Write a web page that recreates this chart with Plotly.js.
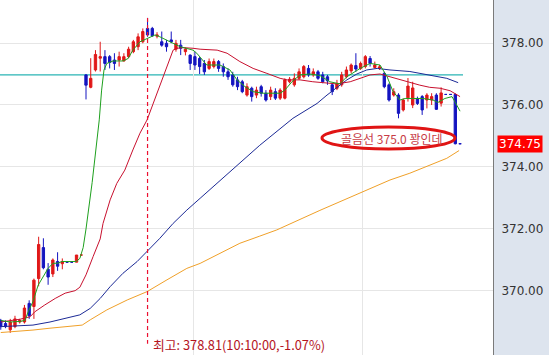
<!DOCTYPE html>
<html>
<head>
<meta charset="utf-8">
<script src="https://cdn.plot.ly/plotly-3.0.1.min.js"></script>
<style>html,body{margin:0;padding:0;background:#fff;}#chart{width:549px;height:355px;}</style>
</head>
<body>
<div id="chart"></div>
<script>
// ---- candle data (one per bar) ----
const openP = [369.05,368.95,368.75,368.85,369.00,369.00,369.60,369.50,370.40,371.40,370.70,370.55,370.95,370.88,370.93,370.93,370.93,371.16,
376.97,376.57,377.13,377.51,377.56,377.56,377.45,377.45,377.42,377.56,377.72,377.88,378.04,378.47,378.47,378.22,378.04,377.99,378.10,377.80,377.93,377.72,
377.61,377.56,377.50,377.34,377.18,377.24,377.40,377.24,377.07,376.97,376.81,376.75,376.32,376.54,376.32,376.59,376.38,376.27,376.43,376.22,
376.22,376.75,376.65,376.86,376.91,377.18,376.97,377.07,376.97,376.91,376.65,376.54,376.65,376.91,377.10,377.27,377.18,377.24,377.50,377.21,
377.18,377.02,376.65,376.32,376.32,375.84,376.23,376.00,376.21,376.27,376.16,376.16,376.32,376.06,376.34,376.34,376.34,374.75];
const highP = [369.10,369.05,369.10,369.20,369.10,369.55,369.70,370.40,371.75,371.70,370.90,371.05,371.25,371.05,370.93,370.93,371.16,371.16,
377.00,377.51,377.77,378.04,377.77,377.61,377.67,377.72,377.67,377.88,378.10,378.31,378.47,378.81,378.52,378.35,378.37,378.10,378.37,378.10,378.10,377.85,
377.63,377.72,377.55,377.45,377.50,377.50,377.45,377.34,377.18,377.07,376.91,376.81,376.70,376.59,376.59,376.65,376.48,376.59,376.54,376.54,
376.86,376.90,377.02,377.18,377.29,377.29,377.18,377.13,377.07,376.97,376.70,376.81,377.07,377.24,377.34,377.67,377.40,377.61,377.58,377.40,
377.29,377.07,376.70,376.54,376.38,376.21,376.87,376.75,376.27,376.32,376.38,376.38,376.38,376.57,376.34,376.34,376.37,374.75];
const lowP = [368.75,368.80,368.65,368.80,368.95,368.95,369.10,369.10,370.15,370.70,370.20,370.45,370.65,370.70,370.93,370.93,370.93,371.16,
376.18,376.54,377.08,377.08,377.13,377.18,377.13,377.24,377.40,377.51,377.67,377.77,377.99,378.20,378.20,378.15,377.88,377.72,377.99,377.72,377.61,377.60,
377.13,377.13,377.00,376.97,377.13,377.18,377.07,376.91,376.81,376.59,376.48,376.38,376.27,376.11,376.22,376.27,376.11,376.16,376.16,376.16,
376.18,376.70,376.59,376.81,376.86,376.91,376.91,376.81,376.70,376.65,376.32,376.48,376.59,376.86,377.02,377.07,377.13,377.18,377.24,377.18,
377.13,376.54,376.11,376.27,375.57,375.79,376.11,375.90,376.00,375.68,375.89,376.00,375.84,375.95,376.34,376.34,374.73,374.75];
const closeP = [368.85,368.85,369.00,369.10,369.05,369.45,369.20,370.35,371.50,370.75,370.45,371.00,370.80,370.95,370.93,370.93,371.16,371.16,
376.64,376.86,377.63,377.56,377.34,377.37,377.34,377.56,377.56,377.80,378.04,378.20,378.37,378.26,378.23,378.26,377.93,377.88,378.04,377.99,377.83,377.80,
377.34,377.29,377.24,377.07,377.40,377.40,377.18,377.07,376.91,376.65,376.59,376.43,376.59,376.27,376.48,376.38,376.16,376.48,376.22,376.48,
376.81,376.83,376.86,377.07,377.24,376.97,377.07,376.86,376.75,376.78,376.43,376.70,376.97,377.13,377.29,377.16,377.34,377.56,377.34,377.29,
377.23,376.59,376.16,376.43,375.73,376.16,376.61,376.55,376.05,375.84,376.32,376.27,375.86,376.39,376.34,376.34,374.75,374.75];

// ---- moving averages (bar index, value) ----
const maShortX = [0,2,4.1,5.1,5.8,6.8,7.9,8.9,10,11,12.1,12.9,15.9,16.7,17.4,18,19.3,20.8,21.3,21.8,22.4,23.7,25.8,26.9,27.9,29.4,30.9,32.6,33.6,35.1,36.4,37.9,39.3,40.6,41.4,43.5,46.3,48.4,49.9,51.6,53.3,55.4,59,60,61.5,63.2,65.3,67.4,69.5,71.6,73.1,75.9,78,80.1,81.6,82.8,84.3,85.4,87.1,89.2,91.3,92.3,93.8,95.3,95.9,97];
const maShortY = [369.05,369.0,369.02,369.05,369.33,369.66,370.19,370.46,370.73,370.89,370.90,370.95,370.95,371.05,371.40,372.0,373.5,375.52,376.48,377.13,377.34,377.42,377.42,377.50,377.77,378.04,378.15,378.26,378.20,378.10,377.99,377.88,377.83,377.77,377.67,377.29,377.29,377.13,376.81,376.59,376.43,376.38,376.38,376.48,376.75,376.97,377.00,376.95,376.75,376.68,376.91,377.18,377.34,377.29,376.91,376.45,376.16,376.21,376.21,376.21,376.16,376.08,376.21,376.27,376.11,375.80];
const maMidX = [0,4.1,6.2,7.2,9.3,11.5,13.6,15.7,16.7,18,19.5,21,21.6,23.1,24.5,26.2,27.9,29.4,30.9,33,35.1,36.4,37.2,38.5,40.6,42.1,45.7,47.8,50.5,53.3,56.2,59,60.5,63.2,65.9,68.9,71,73.8,75.9,78,80.1,82.2,84.3,86.4,88.5,90.6,92.8,94.9,96.4,97];
const maMidY = [369.0,369.09,369.17,369.33,369.55,369.76,369.93,370.01,370.12,370.52,371.11,371.68,372.18,372.94,373.47,373.90,374.55,375.09,375.52,376.38,377.24,377.77,377.83,377.85,377.83,377.80,377.77,377.67,377.40,377.18,377.02,376.86,376.81,376.81,376.75,376.70,376.68,376.75,376.86,376.97,377.00,376.91,376.81,376.72,376.64,376.57,376.54,376.46,376.32,376.27];
const maLongX = [0,3.4,6.8,10.4,14,16.7,18.9,21,23.1,25.8,28.8,30.9,33.6,36.4,39.3,42.1,48.4,54.7,61.7,64.7,66.8,68.9,71,73.1,75.2,77.3,79.5,82.2,86.4,90.6,94.2,96.6];
const maLongY = [368.85,368.87,368.90,369.00,369.12,369.23,369.44,369.76,370.14,370.57,370.95,371.27,371.70,372.18,372.61,372.99,373.85,374.70,375.57,375.84,376.05,376.32,376.57,376.81,377.00,377.13,377.18,377.13,377.08,376.97,376.86,376.72];
const maXLongX = [0,3.4,6.8,10.4,14,17.2,18.9,22.4,26.7,30.9,35.1,39.3,42.1,46.3,50.5,54.7,58.3,67.4,78,82.2,86.4,90.6,94.2,96.8];
const maXLongY = [368.66,368.69,368.74,368.80,368.85,368.90,369.07,369.39,369.71,369.98,370.36,370.73,370.89,371.22,371.54,371.77,371.97,372.60,373.31,373.58,373.80,374.07,374.28,374.53];

const refLine = 376.97;          // cyan reference level
const lastPrice = 374.75;        // current price label
const yTicks = [370, 372, 374, 376, 378];
const vGrid = [40.8, 76.5];      // vertical grid positions (bar index)
const highLabel = '최고: 378.81(10:10:00,-1.07%)';
const noteText = '골음선 375.0 꽝인데';

const xIdx = openP.map((_, i) => i);
let hiIdx = 0;
highP.forEach((v, i) => { if (v > highP[hiIdx]) hiIdx = i; });

const lineTrace = (x, y, color) => ({type:'scatter', mode:'lines', x:x, y:y,
  line:{color:color, width:1}, hoverinfo:'skip', showlegend:false});

const traces = [
  lineTrace(maXLongX, maXLongY, '#f0a028'),
  lineTrace(maLongX, maLongY, '#1c2a96'),
  lineTrace(maMidX, maMidY, '#c8102e'),
  lineTrace(maShortX, maShortY, '#1ea01e'),
  {type:'candlestick', x:xIdx, open:openP, high:highP, low:lowP, close:closeP,
   increasing:{line:{color:'#e01818', width:1}, fillcolor:'#e01818'},
   decreasing:{line:{color:'#1414c0', width:1}, fillcolor:'#1414c0'},
   whiskerwidth:0, hoverinfo:'skip', showlegend:false}
];

const layout = {
  width:549, height:355,
  margin:{l:0, r:56, t:0, b:0, pad:0},
  paper_bgcolor:'#dde4ee', plot_bgcolor:'#ffffff',
  showlegend:false,
  xaxis:{range:[-0.163, 103.96], tickvals:vGrid, showticklabels:false, ticks:'',
         showgrid:true, gridcolor:'#e6e6e6', zeroline:false, showline:false,
         rangeslider:{visible:false}, fixedrange:true},
  yaxis:{range:[367.935, 379.387], side:'right', tickvals:yTicks, tickformat:'.2f',
         showgrid:true, gridcolor:'#e6e6e6', zeroline:false, ticks:'',
         showline:true, linecolor:'#7a7a7a', linewidth:1, ticklabelstandoff:5,
         tickfont:{family:'DejaVu Sans', size:12, color:'#333333'}, fixedrange:true},
  shapes:[
    {type:'line', xref:'paper', yref:'y', x0:0, x1:(463/493), y0:refLine, y1:refLine,
     line:{color:'#2ab4b4', width:1.2}, layer:'below'},
    {type:'line', xref:'x', yref:'y', x0:hiIdx, x1:hiIdx, y0:highP[hiIdx], y1:368.3,
     line:{color:'#ec1030', width:1.2, dash:'4px,3px'}},
    {type:'circle', xref:'paper', yref:'paper', x0:322/493, x1:455/493,
     y0:(355-149)/355, y1:(355-127)/355, line:{color:'#e01414', width:3}}
  ],
  annotations:[
    {xref:'x', yref:'paper', x:hiIdx, y:0, xanchor:'left', yanchor:'bottom',
     xshift:4, yshift:0, borderpad:0, text:highLabel, showarrow:false,
     font:{family:'Noto Sans CJK KR', size:12.8, color:'#b4141e'}},
    {xref:'paper', yref:'paper', x:392/493, y:(355-138)/355, xanchor:'center', yanchor:'middle',
     text:noteText, showarrow:false,
     font:{family:'Noto Sans CJK KR', size:12, color:'#c83c46'}},
    {xref:'paper', yref:'y', x:1, y:lastPrice, xanchor:'left', yanchor:'middle', xshift:4,
     text:lastPrice.toFixed(2), showarrow:false, bgcolor:'#ff0000', borderpad:1,
     font:{family:'DejaVu Sans', size:12, color:'#ffffff'}}
  ]
};

Plotly.newPlot('chart', traces, layout, {staticPlot:true, displayModeBar:false});
</script>
</body>
</html>
